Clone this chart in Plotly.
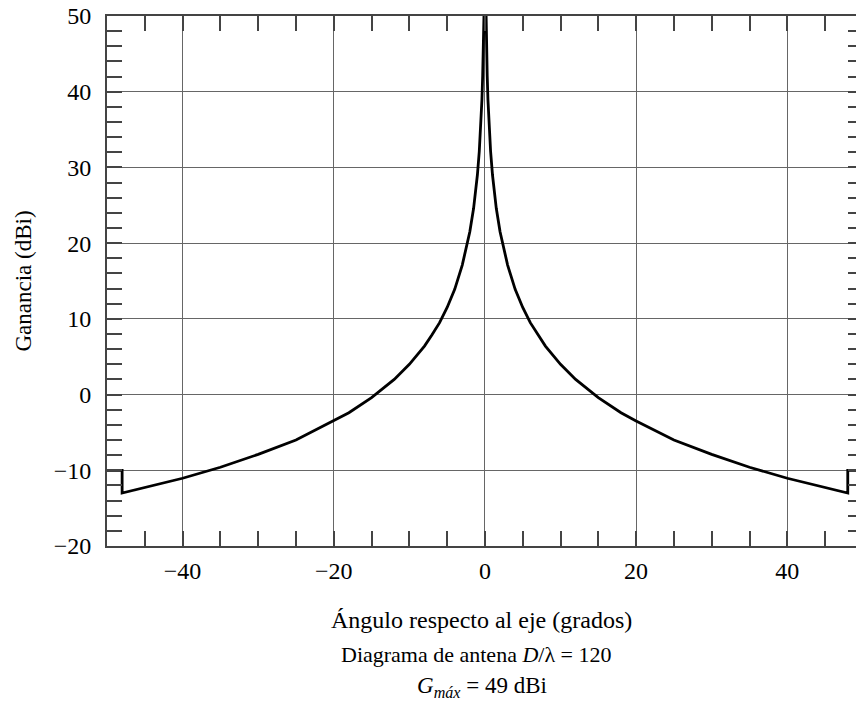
import plotly.graph_objects as go

# Antenna gain pattern (angle in degrees, gain in dBi)
angle = [-50, -48, -48, -45, -40, -35, -30, -25, -20, -18, -15, -12, -10, -8, -7, -6, -5, -4,
         -3, -2.5, -2, -1.5, -1, -0.75, -0.6, -0.5, -0.4, -0.3, -0.2, -0.15, -0.12, 0,
         0.12, 0.15, 0.2, 0.3, 0.4, 0.5, 0.6, 0.75, 1, 1.5, 2, 2.5, 3, 4, 5, 6, 7, 8,
         10, 12, 15, 18, 20, 25, 30, 35, 40, 45, 48, 48, 50]
gain = [-10, -10, -13.0, -12.3, -11.05, -9.6, -7.9, -6.0, -3.5, -2.4, -0.4, 2.0, 4.0, 6.4, 7.9, 9.5, 11.5, 13.9,
        17.1, 19.1, 21.5, 24.6, 29.0, 32.1, 34.5, 36.5, 38.9, 42.1, 46.5, 49.6, 52.0, 56.0,
        52.0, 49.6, 46.5, 42.1, 38.9, 36.5, 34.5, 32.1, 29.0, 24.6, 21.5, 19.1, 17.1, 13.9, 11.5, 9.5, 7.9, 6.4,
        4.0, 2.0, -0.4, -2.4, -3.5, -6.0, -7.9, -9.6, -11.05, -12.3, -13.0, -10, -10]

x_ticks = [-40, -20, 0, 20, 40]
x_tick_labels = ["\u221240", "\u221220", "0", "20", "40"]
y_ticks = [-20, -10, 0, 10, 20, 30, 40, 50]
y_tick_labels = ["\u221220", "\u221210", "0", "10", "20", "30", "40", "50"]

x_title = "Ángulo respecto al eje (grados)"
caption1 = "Diagrama de antena <i>D</i>/λ = 120"
caption2 = "<i>G<sub>máx</sub></i> = 49 dBi"
y_title = "Ganancia (dBi)"

FONT = "Liberation Serif, Times New Roman, serif"
AX = "#444444"
GRID = "#666666"

fig = go.Figure()
fig.add_trace(go.Scatter(x=angle, y=gain, mode="lines",
                         line=dict(color="black", width=2.8),
                         hoverinfo="skip", showlegend=False))
# helper trace for right-hand tick axis
fig.add_trace(go.Scatter(x=[angle[0]], y=[gain[0]], yaxis="y2", mode="lines",
                         line=dict(width=0), hoverinfo="skip", showlegend=False))

fig.update_layout(
    width=856, height=702,
    margin=dict(l=107, r=0, t=16, b=156),
    paper_bgcolor="white", plot_bgcolor="white",
    font=dict(family=FONT, size=24, color="black"),
    xaxis=dict(range=[-50, 49.09], tickvals=x_ticks, ticktext=x_tick_labels,
               showgrid=True, gridcolor=GRID, gridwidth=1, zeroline=False,
               showline=True, linecolor=AX, linewidth=2, mirror="ticks",
               ticks="inside", ticklen=15, tickcolor=AX, tickwidth=1.5,
               minor=dict(dtick=5, tick0=0, ticks="inside", ticklen=15,
                          tickcolor=AX, tickwidth=1.5, showgrid=False),
               tickfont=dict(size=24), ticklabelstandoff=2),
    yaxis=dict(range=[-20, 50], tickvals=y_ticks, ticktext=y_tick_labels,
               showgrid=True, gridcolor=GRID, gridwidth=1, zeroline=False,
               showline=True, linecolor=AX, linewidth=2, mirror=False,
               ticks="inside", ticklen=15, tickcolor=AX, tickwidth=1.5,
               minor=dict(dtick=2, tick0=0, ticks="inside", ticklen=15,
                          tickcolor=AX, tickwidth=1.5, showgrid=False),
               tickfont=dict(size=24), ticklabelstandoff=9,
               title=dict(text=y_title, font=dict(size=23), standoff=16)),
    yaxis2=dict(range=[-20, 50], overlaying="y", side="right", anchor="x",
                showgrid=False, zeroline=False, showline=False,
                showticklabels=False, tickvals=y_ticks,
                ticks="inside", ticklen=8, tickcolor=AX, tickwidth=1.5,
                minor=dict(dtick=2, tick0=0, ticks="inside", ticklen=8,
                           tickcolor=AX, tickwidth=1.5, showgrid=False)),
)

for txt, shift, size, xs in [(x_title, -74, 24, 0), (caption1, -108, 22, -6), (caption2, -141, 23, 0)]:
    fig.add_annotation(text=txt, xref="paper", yref="paper", x=0.5, y=0,
                       xanchor="center", yanchor="middle", yshift=shift, xshift=xs,
                       showarrow=False, font=dict(family=FONT, size=size, color="black"))

fig.write_html("out.html")
